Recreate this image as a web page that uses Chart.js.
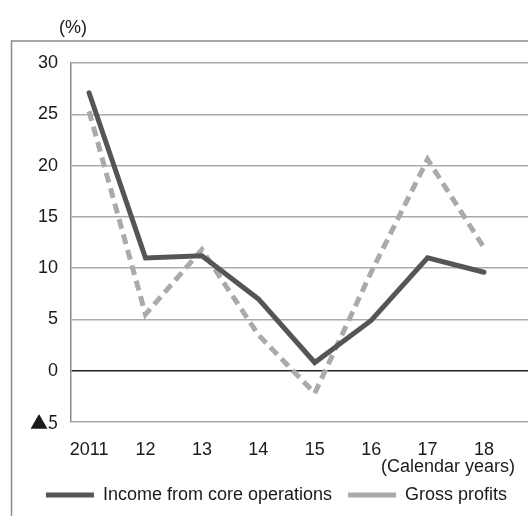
<!DOCTYPE html>
<html>
<head>
<meta charset="utf-8">
<script src="https://cdn.jsdelivr.net/npm/chart.js@4.4.0/dist/chart.umd.min.js"></script>
<style>
  html, body { margin: 0; padding: 0; background: #fff; }
  #wrap { width: 528px; height: 516px; }
</style>
</head>
<body>
<div id="wrap"><canvas id="marginChart" width="528" height="516"></canvas></div>
<script>
// Calendar years (x axis)
const years = ['2011', '12', '13', '14', '15', '16', '17', '18'];
// Margins in %
const coreIncome = [27.1, 11.0, 11.2, 7.0, 0.8, 4.9, 11.0, 9.6];
const grossProfits = [25.3, 5.5, 11.8, 3.5, -2.2, 9.6, 20.6, 12.0];
const yTicks = [-5, 0, 5, 10, 15, 20, 25, 30];

const FONT = "'Liberation Sans', Arial, sans-serif";
const FONT_SIZE = 18;
const TEXT = '#1a1a1a';

Chart.defaults.font.family = FONT;
Chart.defaults.font.size = FONT_SIZE;
Chart.defaults.color = TEXT;

function toPoints(values) {
    return values.map((v, i) => ({ x: i, y: v }));
}

// Outer frame, unit label and the x-axis note
const extras = {
    id: 'extras',
    beforeDraw(chart) {
        const ctx = chart.ctx;
        ctx.save();
        ctx.strokeStyle = '#8a8a8a';
        ctx.lineWidth = 1.5;
        ctx.beginPath();
        ctx.moveTo(11.5, 516);
        ctx.lineTo(11.5, 41);
        ctx.lineTo(528, 41);
        ctx.stroke();
        ctx.restore();
    },
    afterDraw(chart) {
        const ctx = chart.ctx;
        ctx.save();
        ctx.fillStyle = TEXT;
        ctx.font = FONT_SIZE + 'px ' + FONT;
        ctx.textBaseline = 'middle';
        ctx.textAlign = 'left';
        ctx.fillText('(%)', 59, 28);
        ctx.textAlign = 'right';
        ctx.fillText('(Calendar years)', 515, 467);
        ctx.restore();
    }
};

new Chart(document.getElementById('marginChart'), {
    type: 'line',
    data: {
        datasets: [{
            label: 'Income from core operations',
            data: toPoints(coreIncome),
            borderColor: '#555555',
            backgroundColor: '#555555',
            borderWidth: 5,
            borderCapStyle: 'round',
            borderJoinStyle: 'miter',
            pointRadius: 0,
            tension: 0
        }, {
            label: 'Gross profits',
            data: toPoints(grossProfits),
            borderColor: '#aaaaac',
            backgroundColor: '#aaaaac',
            borderWidth: 5,
            borderDash: [10, 6],
            borderCapStyle: 'butt',
            borderJoinStyle: 'miter',
            pointRadius: 0,
            tension: 0
        }]
    },
    options: {
        responsive: false,
        animation: false,
        layout: { padding: { left: 25, right: 0, top: 63, bottom: 2 } },
        plugins: {
            tooltip: { enabled: false },
            legend: {
                position: 'bottom',
                labels: {
                    usePointStyle: true,
                    pointStyle: 'line',
                    pointStyleWidth: 48,
                    padding: 16,
                    font: { size: FONT_SIZE }
                }
            }
        },
        scales: {
            x: {
                type: 'linear',
                min: -0.32,
                max: 7.78,
                afterBuildTicks(scale) {
                    scale.ticks = years.map((_, i) => ({ value: i }));
                },
                afterFit(scale) {
                    scale.height = 48;
                },
                ticks: {
                    padding: 17,
                    maxRotation: 0,
                    autoSkip: false,
                    callback: v => years[v]
                },
                grid: { display: false, drawTicks: false },
                border: { display: false }
            },
            y: {
                min: -5,
                max: 30,
                afterBuildTicks(scale) {
                    scale.ticks = yTicks.map(v => ({ value: v }));
                },
                afterFit(scale) {
                    scale.width = 46;
                },
                ticks: {
                    padding: 13,
                    // negative values carry a filled triangle instead of a minus sign
                    font: ctx => (ctx.tick && ctx.tick.value < 0
                        ? { family: "'Noto Sans CJK JP', " + FONT, size: FONT_SIZE }
                        : { family: FONT, size: FONT_SIZE }),
                    callback: v => (v < 0 ? '\u25B2' + Math.abs(v) : String(v))
                },
                grid: {
                    drawTicks: false,
                    lineWidth: 1.5,
                    color: ctx => (ctx.tick && ctx.tick.value === 0 ? '#222222' : '#ababab')
                },
                border: { display: true, color: '#8a8a8a', width: 1.5 }
            }
        }
    },
    plugins: [extras]
});
</script>
</body>
</html>
